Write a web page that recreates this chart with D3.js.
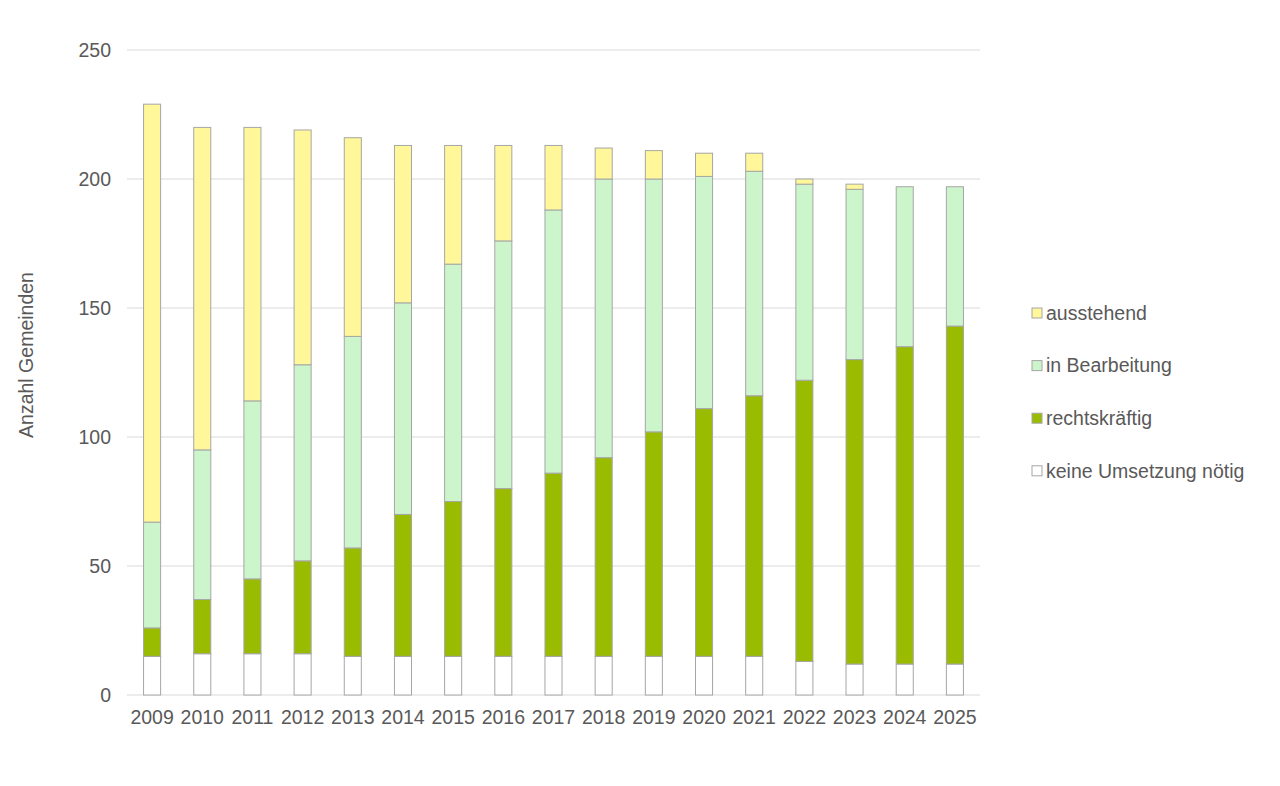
<!DOCTYPE html>
<html>
<head>
<meta charset="utf-8">
<script src="https://cdn.jsdelivr.net/npm/d3@7"></script>
<style>
  body { margin: 0; background: #fff; }
  svg { font-family: Arial, "Liberation Sans", sans-serif; }
</style>
</head>
<body>
<svg id="chart" width="1280" height="786"></svg>
<script>
const years = ['2009','2010','2011','2012','2013','2014','2015','2016','2017','2018','2019','2020','2021','2022','2023','2024','2025'];
const keineUmsetzung = [15,16,16,16,15,15,15,15,15,15,15,15,15,13,12,12,12];
const rechtskraeftig = [11,21,29,36,42,55,60,65,71,77,87,96,101,109,118,123,131];
const inBearbeitung = [41,58,69,76,82,82,92,96,102,108,98,90,87,76,66,62,54];
const ausstehend = [162,125,106,91,77,61,46,37,25,12,11,9,7,2,2,0,0];
const yTicks = [0, 50, 100, 150, 200, 250];

const seriesInfo = [
  { key: 'keine', label: 'keine Umsetzung nötig', values: keineUmsetzung, color: '#ffffff' },
  { key: 'recht', label: 'rechtskräftig', values: rechtskraeftig, color: '#99bb00' },
  { key: 'bearb', label: 'in Bearbeitung', values: inBearbeitung, color: '#ccf5cc' },
  { key: 'aus', label: 'ausstehend', values: ausstehend, color: '#fff799' }
];

const width = 1280, height = 786;
const margin = { top: 50, right: 300, bottom: 91, left: 127 };
const fontSize = 19.5;
const textColor = '#595959';

const svg = d3.select('#chart');

const rows = years.map((y, i) => {
  const r = { year: y };
  seriesInfo.forEach(s => { r[s.key] = s.values[i]; });
  return r;
});

const stack = d3.stack().keys(seriesInfo.map(s => s.key));
const stacked = stack(rows);

const x = d3.scaleBand()
  .domain(years)
  .range([margin.left, width - margin.right])
  .paddingInner(0.66)
  .paddingOuter(0.33);

const y = d3.scaleLinear()
  .domain([0, 250])
  .range([height - margin.bottom, margin.top]);

// gridlines
svg.append('g')
  .selectAll('line')
  .data(yTicks)
  .join('line')
  .attr('x1', margin.left)
  .attr('x2', width - margin.right)
  .attr('y1', d => y(d))
  .attr('y2', d => y(d))
  .attr('stroke', '#d9d9d9')
  .attr('stroke-width', 1);

// y axis labels
svg.append('g')
  .attr('transform', `translate(${margin.left},0)`)
  .call(d3.axisLeft(y).tickValues(yTicks).tickSize(0).tickPadding(16))
  .call(g => g.select('.domain').remove())
  .selectAll('text')
  .attr('font-size', fontSize)
  .attr('fill', textColor)
  .attr('font-family', 'Arial, "Liberation Sans", sans-serif');

// x axis labels
svg.append('g')
  .attr('transform', `translate(0,${height - margin.bottom})`)
  .call(d3.axisBottom(x).tickSize(0).tickPadding(15))
  .call(g => g.select('.domain').remove())
  .selectAll('text')
  .attr('font-size', fontSize)
  .attr('fill', textColor)
  .attr('font-family', 'Arial, "Liberation Sans", sans-serif');

// bars
svg.append('g')
  .selectAll('g')
  .data(stacked)
  .join('g')
  .attr('fill', (d, i) => seriesInfo[i].color)
  .selectAll('rect')
  .data(d => d.filter(p => p[1] - p[0] > 0))
  .join('rect')
  .attr('x', d => x(d.data.year))
  .attr('width', x.bandwidth())
  .attr('y', d => y(d[1]))
  .attr('height', d => y(d[0]) - y(d[1]))
  .attr('stroke', '#a6a6a6')
  .attr('stroke-width', 1);

// y axis title
svg.append('text')
  .attr('transform', 'translate(33,355) rotate(-90)')
  .attr('text-anchor', 'middle')
  .attr('font-size', fontSize)
  .attr('fill', textColor)
  .text('Anzahl Gemeinden');

// legend
const legendOrder = seriesInfo.slice().reverse();
const legend = svg.append('g')
  .attr('transform', 'translate(1032,313)')
  .selectAll('g')
  .data(legendOrder)
  .join('g')
  .attr('transform', (d, i) => `translate(0,${i * 52.6})`);

legend.append('rect')
  .attr('x', 0)
  .attr('y', -5)
  .attr('width', 10)
  .attr('height', 10)
  .attr('fill', d => d.color)
  .attr('stroke', '#a6a6a6')
  .attr('stroke-width', 1);

legend.append('text')
  .attr('x', 14)
  .attr('y', 0)
  .attr('dy', '0.35em')
  .attr('font-size', fontSize)
  .attr('fill', textColor)
  .text(d => d.label);
</script>
</body>
</html>
